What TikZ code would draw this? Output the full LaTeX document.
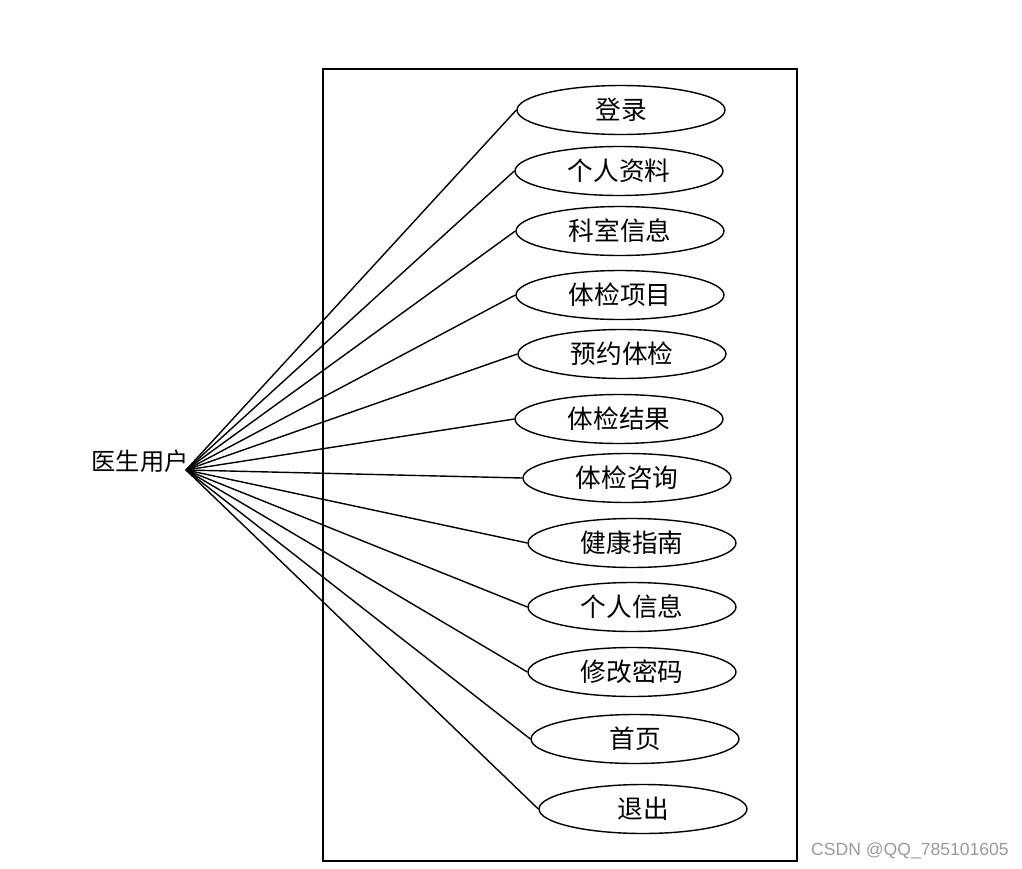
\documentclass[tikz,border=0pt]{standalone}
\usepackage{fontspec}
\setsansfont{Liberation Sans}
\newfontfamily\cjk{Noto Sans CJK SC}
\usepackage{tikz}
\usetikzlibrary{shapes.geometric}
\definecolor{MarkGray}{HTML}{9A9A9A}

\begin{document}
\begin{tikzpicture}[x=0.02cm, y=-0.02cm,
    every node/.style={font=\cjk\fontsize{14.6}{16}\selectfont},
    usecase/.style={draw, ellipse, line width=0.8pt, minimum width=4.16cm, minimum height=0.98cm, inner sep=0pt},
    link/.style={line width=0.8pt}]
  \useasboundingbox (0,0) rectangle (1022,869);
  \draw[line width=0.8pt] (323,69) rectangle (797,861);
  \node (user) at (140,461) {\fontsize{13.8}{15}\selectfont 医生用户};
  \coordinate (hub) at (186,470);
  \node[usecase] (login) at (621,110) {登录};
  \node[usecase] (profile) at (619,171) {个人资料};
  \node[usecase] (dept) at (620,231) {科室信息};
  \node[usecase] (items) at (620,295) {体检项目};
  \node[usecase] (booking) at (622,354) {预约体检};
  \node[usecase] (result) at (619,419) {体检结果};
  \node[usecase] (consult) at (627,478) {体检咨询};
  \node[usecase] (guide) at (632,543) {健康指南};
  \node[usecase] (info) at (632,607) {个人信息};
  \node[usecase] (passwd) at (632,672) {修改密码};
  \node[usecase] (home) at (635,739) {首页};
  \node[usecase] (logout) at (643,809) {退出};
  \foreach \uc in {login,profile,dept,items,booking,result,consult,guide,info,passwd,home,logout}
    \draw[link] (hub) -- (\uc.west);
  \node[font=\sffamily\fontsize{10}{12}\selectfont, text=MarkGray] (mark) at (910,851) {CSDN @QQ\_785101605};
\end{tikzpicture}
\end{document}
